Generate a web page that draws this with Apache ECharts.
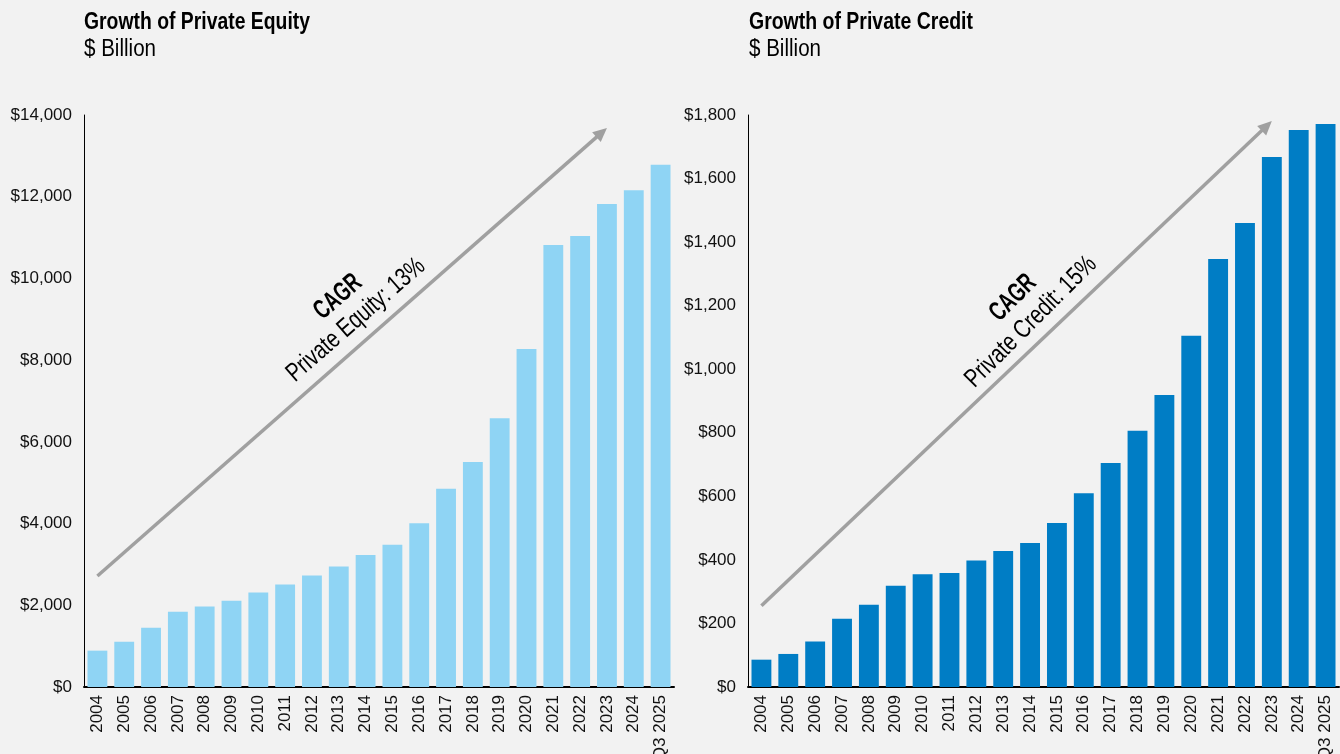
<!DOCTYPE html>
<html>
<head>
<meta charset="utf-8">
<script src="https://cdn.jsdelivr.net/npm/echarts@6/dist/echarts.min.js"></script>
<style>
html,body{margin:0;padding:0;background:#f2f2f2;}
#chart{width:1340px;height:754px;}
</style>
</head>
<body>
<div id="chart"></div>
<script>
const categories = ['2004','2005','2006','2007','2008','2009','2010','2011','2012','2013','2014','2015','2016','2017','2018','2019','2020','2021','2022','2023','2024','Q3 2025'];
const privateEquity = [890,1110,1450,1840,1970,2110,2310,2510,2730,2950,3230,3480,4010,4850,5510,6580,8270,10820,11040,11820,12160,12780];
const privateCredit = [86,104,143,215,259,319,355,359,398,428,453,516,610,705,806,919,1105,1347,1460,1668,1753,1772];
const peTicks = {min:0, max:14000, interval:2000};
const pcTicks = {min:0, max:1800, interval:200};
const titles = ['Growth of Private Equity','Growth of Private Credit'];
const subtitle = '$ Billion';
const cagrLabels = ['Private Equity: 13%','Private Credit: 15%'];

const SANS = "'Liberation Sans',Arial,sans-serif";

const chart = echarts.init(document.getElementById('chart'));

function yAxis(idx, t){
  return {
    type:'value', gridIndex:idx, min:t.min, max:t.max, interval:t.interval,
    axisLine:{show:true, lineStyle:{color:'#000', width:1}},
    axisTick:{show:false}, splitLine:{show:false},
    axisLabel:{color:'#111', fontFamily:SANS, fontSize:17, margin:12,
      formatter:v=>'$'+v.toLocaleString('en-US')}
  };
}
function xAxis(idx){
  return {
    type:'category', gridIndex:idx, data:categories,
    axisLine:{lineStyle:{color:'#000', width:2}},
    axisTick:{show:false},
    axisLabel:{interval:0, rotate:90, color:'#111', fontFamily:SANS, fontSize:17, margin:8}
  };
}

chart.setOption({
  backgroundColor:'#f2f2f2',
  animation:false,
  grid:[
    {left:84, top:115, width:590, height:572, containLabel:false, outerBoundsMode:'none'},
    {left:748, top:115, width:591, height:572, containLabel:false, outerBoundsMode:'none'}
  ],
  xAxis:[xAxis(0), xAxis(1)],
  yAxis:[yAxis(0, peTicks), yAxis(1, pcTicks)],
  series:[
    {type:'bar', xAxisIndex:0, yAxisIndex:0, data:privateEquity, barCategoryGap:'26%',
     itemStyle:{color:'#8fd4f4'}},
    {type:'bar', xAxisIndex:1, yAxisIndex:1, data:privateCredit, barCategoryGap:'26%',
     itemStyle:{color:'#007dc5'}}
  ]
});

// condensed text helper: measure with canvas, then scale horizontally
const ctx = document.createElement('canvas').getContext('2d');
function condensed(text, font, width, x, y, rot, align){
  ctx.font = font;
  const w = ctx.measureText(text).width;
  return {type:'text', x:x, y:y, rotation:rot||0, scaleX:width/w, silent:true,
    style:{text:text, font:font, fill:'#000', align:align||'left', verticalAlign:'middle'}};
}

const graphics = [];
// titles
[84, 749].forEach((x, i) => {
  graphics.push(condensed(titles[i], "bold 24px "+SANS, i===0?226:224, x, 22, 0, 'left'));
  graphics.push(condensed(subtitle, "23px "+SANS, 72, x, 50, 0, 'left'));
});

// annotation arrows anchored in data space
const arrows = [
  {grid:0, from:[0, 2717], to:[18.94, 13682]},
  {grid:1, from:[0.24, 256], to:[18.96, 1781]}
];
const texts = [
  {cagr:[338,297], sub:[356,320], angle:41},
  {cagr:[1013,298], sub:[1031,322], angle:45}
];
arrows.forEach((a, i) => {
  const p1 = chart.convertToPixel({gridIndex:a.grid}, a.from);
  const p2 = chart.convertToPixel({gridIndex:a.grid}, a.to);
  const dx = p2[0]-p1[0], dy = p2[1]-p1[1];
  const len = Math.sqrt(dx*dx+dy*dy);
  const ux = dx/len, uy = dy/len;
  const hl = 14, hw = 6.5;
  const bx = p2[0]-ux*hl, by = p2[1]-uy*hl;
  graphics.push({type:'line', shape:{x1:p1[0], y1:p1[1], x2:bx+ux*2, y2:by+uy*2},
    style:{stroke:'#a0a0a0', lineWidth:3.5}, silent:true});
  graphics.push({type:'polygon', shape:{points:[[p2[0],p2[1]],[bx-uy*hw, by+ux*hw],[bx+uy*hw, by-ux*hw]]},
    style:{fill:'#a0a0a0'}, silent:true});
  const t = texts[i];
  const rot = t.angle*Math.PI/180;
  graphics.push(condensed('CAGR', "bold 27px "+SANS, 54, t.cagr[0], t.cagr[1], rot, 'center'));
  graphics.push(condensed(cagrLabels[i], "26px "+SANS, 174, t.sub[0], t.sub[1], rot, 'center'));
});
chart.setOption({graphic:graphics});
</script>
</body>
</html>
